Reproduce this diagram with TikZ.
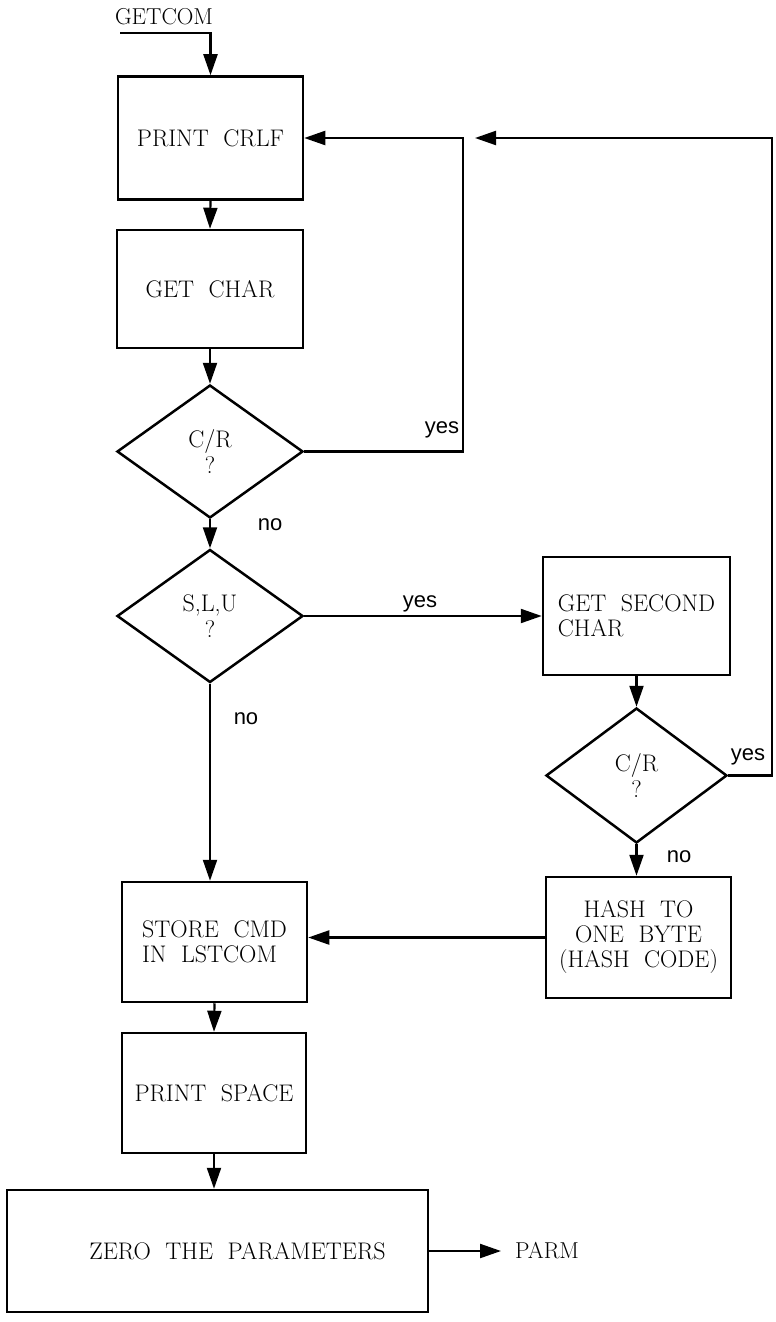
\documentclass[tikz,border=0pt]{standalone}
\usepackage{fontspec}
\newfontfamily\lblfont{Liberation Sans}
\usetikzlibrary{arrows.meta,shapes.geometric}
\tikzset{
  boxnode/.style={draw, line width=2.5pt, rectangle, inner sep=0pt,
    font=\fontsize{24}{25}\selectfont},
  decision/.style={draw, line width=2.5pt, diamond, inner sep=0pt, align=center,
    font=\fontsize{24}{26}\selectfont},
  arr/.style={draw, line width=2.2pt, -{Triangle[length=21pt,width=14pt]}},
  lbl/.style={font=\lblfont\fontsize{22}{22}\selectfont, anchor=base, inner sep=0pt},
  term/.style={font=\fontsize{23}{24}\selectfont, inner sep=0pt}
}
\begin{document}
\begin{tikzpicture}[x=1pt,y=-1pt]
\useasboundingbox (0,0) rectangle (776,1322);
% terminals
\node[term] (getcom) at (164,17) {GETCOM};
\coordinate (gstart) at (120,33);
% boxes
\node[boxnode, minimum width=185pt, minimum height=123pt] (crlf) at (210.5,138) {\raisebox{-6pt}{PRINT\ \ CRLF}};
\node[boxnode, minimum width=186pt, minimum height=118pt] (getchar) at (210,289) {GET\ \ CHAR};
\node[decision, minimum width=186pt, minimum height=133pt] (cr1) at (210,451.5) {C/R\\?};
\node[decision, minimum width=186pt, minimum height=133pt] (slu) at (210,616) {S,L,U\\?};
\node[boxnode, minimum width=187pt, minimum height=118pt, align=left] (second) at (636.5,616) {GET\ \ SECOND\\CHAR};
\node[decision, minimum width=181pt, minimum height=135pt] (cr2) at (636.5,775.5) {C/R\\?};
\node[boxnode, minimum width=185pt, minimum height=120pt, align=left] (store) at (214.5,942) {STORE\ \ CMD\\IN\ \ LSTCOM};
\node[boxnode, minimum width=185pt, minimum height=121pt, align=center] (hash) at (638.5,937.5) {HASH\ \ TO\\ONE\ \ BYTE\\(HASH\ \ CODE)};
\node[boxnode, minimum width=184pt, minimum height=120pt] (space) at (214,1093) {PRINT\ \ SPACE};
\node[boxnode, minimum width=421pt, minimum height=122pt] (zero) at (217.5,1251) {\hspace*{40pt}ZERO\ \ THE\ \ PARAMETERS};
\node[term, anchor=west] (parm) at (515,1251) {PARM};
% loop coordinates
\coordinate (l1) at (463,138);
\coordinate (l2) at (772,138);
\coordinate (l2end) at (475,138);
\coordinate (parmtip) at (501,1251);
% connectors
\draw[arr] (gstart) -| (crlf.north);
\draw[arr] (crlf.south) -- (getchar.north);
\draw[arr] (getchar.south) -- (cr1.north);
\draw[arr] (cr1.south) -- (slu.north);
\draw[arr] (cr1.east) -| (l1) -- (crlf.east);
\draw[arr] (slu.east) -- (second.west);
\draw[arr] (second.south) -- (cr2.north);
\draw[arr] (cr2.east) -| (l2) -- (l2end);
\draw[arr] (cr2.south) -- (cr2.south |- hash.north);
\draw[arr] (slu.south) -- (slu.south |- store.north);
\draw[arr] (hash.west) -- (hash.west -| store.east);
\draw[arr] (store.south) -- (space.north);
\draw[arr] (space.south) -- (space.south |- zero.north);
\draw[arr] (zero.east) -- (parmtip);
% labels
\node[lbl] (yes1) at (442,433) {yes};
\node[lbl] (no1) at (270,530) {no};
\node[lbl] (yes2) at (420,607) {yes};
\node[lbl] (no2) at (246,724) {no};
\node[lbl] (yes3) at (748,760) {yes};
\node[lbl] (no3) at (679,862) {no};
\end{tikzpicture}
\end{document}
